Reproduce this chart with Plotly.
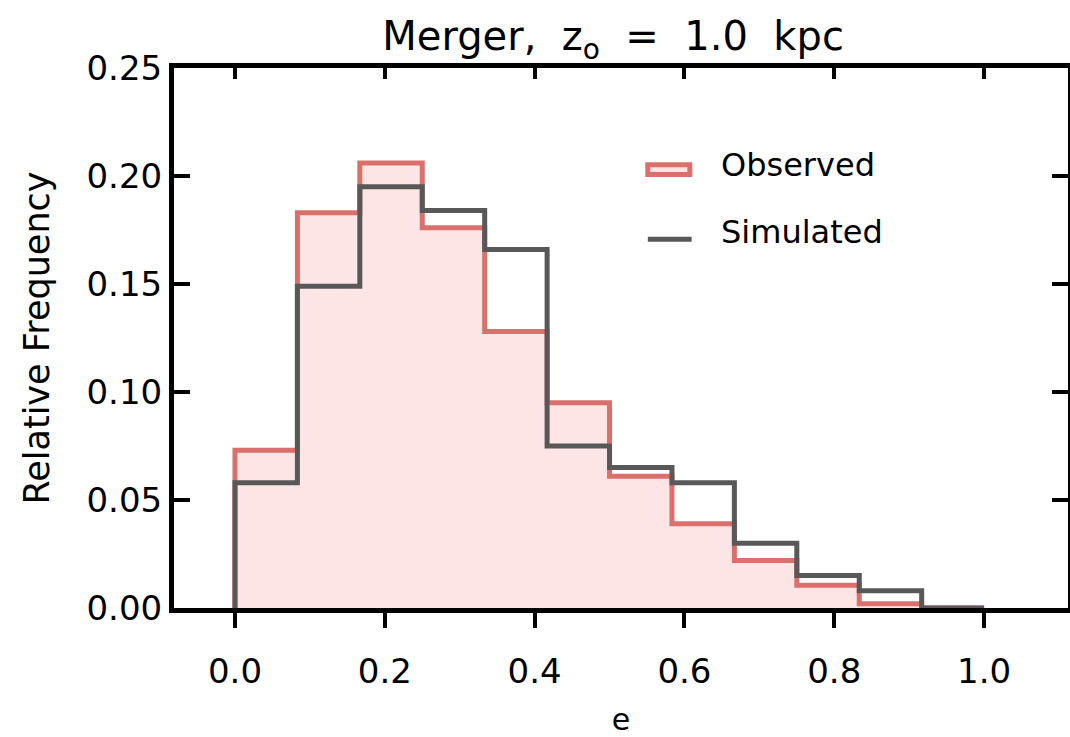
import numpy as np
import plotly.graph_objects as go

# Bin edges of the eccentricity histogram (12 equal bins from 0 to 1)
bin_edges = list(np.linspace(0.0, 1.0, 13))

# Relative frequency per bin
observed = [0.073, 0.183, 0.206, 0.176, 0.128, 0.095, 0.061, 0.039, 0.022, 0.0105, 0.002, 0.0]
simulated = [0.058, 0.149, 0.195, 0.184, 0.166, 0.075, 0.065, 0.058, 0.030, 0.015, 0.008, 0.0]

x_ticks = [0.0, 0.2, 0.4, 0.6, 0.8, 1.0]
y_ticks = [0.00, 0.05, 0.10, 0.15, 0.20, 0.25]

series_names = ["Observed", "Simulated"]
title_text = "Merger,  z<sub>o</sub>  =  1.0  kpc"
FONT = "DejaVu Sans"
RED = "rgb(218,112,108)"
PINK = "rgb(253,229,229)"
GREY = "rgb(88,88,88)"


def step_xy(edges, vals):
    xs = [edges[0]] + list(edges)
    ys = [0.0] + list(vals) + [0.0]
    return xs, ys


ox, oy = step_xy(bin_edges, observed)
sx, sy = step_xy(bin_edges, simulated)

fig = go.Figure()
fig.add_trace(go.Scatter(
    x=ox, y=oy, mode="lines", line_shape="hv", name=series_names[0],
    line=dict(color=RED, width=5), fill="toself", fillcolor=PINK,
))
fig.add_trace(go.Scatter(
    x=sx, y=sy, mode="lines", line_shape="hv", name=series_names[1],
    line=dict(color=GREY, width=5),
))
# invisible trace to activate top axis ticks
fig.add_trace(go.Scatter(x=[0.5], y=[0.1], xaxis="x2", mode="markers",
                         marker=dict(opacity=0), showlegend=False, hoverinfo="skip"))

# Legend drawn in plot-area (domain) coordinates
fig.add_shape(type="rect", xref="x domain", yref="y domain",
              x0=0.530, x1=0.577, y0=0.803, y1=0.821,
              line=dict(color=RED, width=5), fillcolor=PINK)
fig.add_shape(type="line", xref="x domain", yref="y domain",
              x0=0.530, x1=0.579, y0=0.683, y1=0.683,
              line=dict(color=GREY, width=5))
fig.add_annotation(xref="x domain", yref="y domain", x=0.610, y=0.820,
                   xanchor="left", yanchor="middle", showarrow=False,
                   text=series_names[0], font=dict(size=32, family=FONT))
fig.add_annotation(xref="x domain", yref="y domain", x=0.610, y=0.697,
                   xanchor="left", yanchor="middle", showarrow=False,
                   text=series_names[1], font=dict(size=32, family=FONT))

x_range = [-0.0814, 1.112]
fig.update_layout(
    width=1070, height=737,
    margin=dict(l=174, r=2, t=68, b=129),
    paper_bgcolor="white", plot_bgcolor="white",
    font=dict(family=FONT, size=34, color="black"),
    title=dict(text=title_text, x=0.573, xanchor="center", y=0.970, yanchor="top",
               font=dict(size=40, family=FONT)),
    showlegend=False,
    xaxis=dict(range=x_range, tickvals=x_ticks, tickformat=".1f",
               ticks="outside", ticklen=15, tickwidth=4, tickcolor="black",
               ticklabelstandoff=14, automargin=False,
               showline=True, linewidth=5, linecolor="black", mirror=True,
               showgrid=False, zeroline=False,
               title=dict(text="e", standoff=26, font=dict(size=30))),
    xaxis2=dict(range=x_range, tickvals=x_ticks, overlaying="x", side="top",
                ticks="inside", ticklen=11, tickwidth=4, tickcolor="black",
                showticklabels=False, showline=False, showgrid=False, zeroline=False,
                automargin=False),
    yaxis=dict(range=[0, 0.25], tickvals=y_ticks, tickformat=".2f",
               ticks="inside", ticklen=16, tickwidth=4, tickcolor="black",
               showline=True, linewidth=5, linecolor="black", mirror="ticks",
               showgrid=False, zeroline=False, automargin=False,
               title=dict(text="Relative Frequency", standoff=28, font=dict(size=35))),
)

fig.write_html("out.html")
